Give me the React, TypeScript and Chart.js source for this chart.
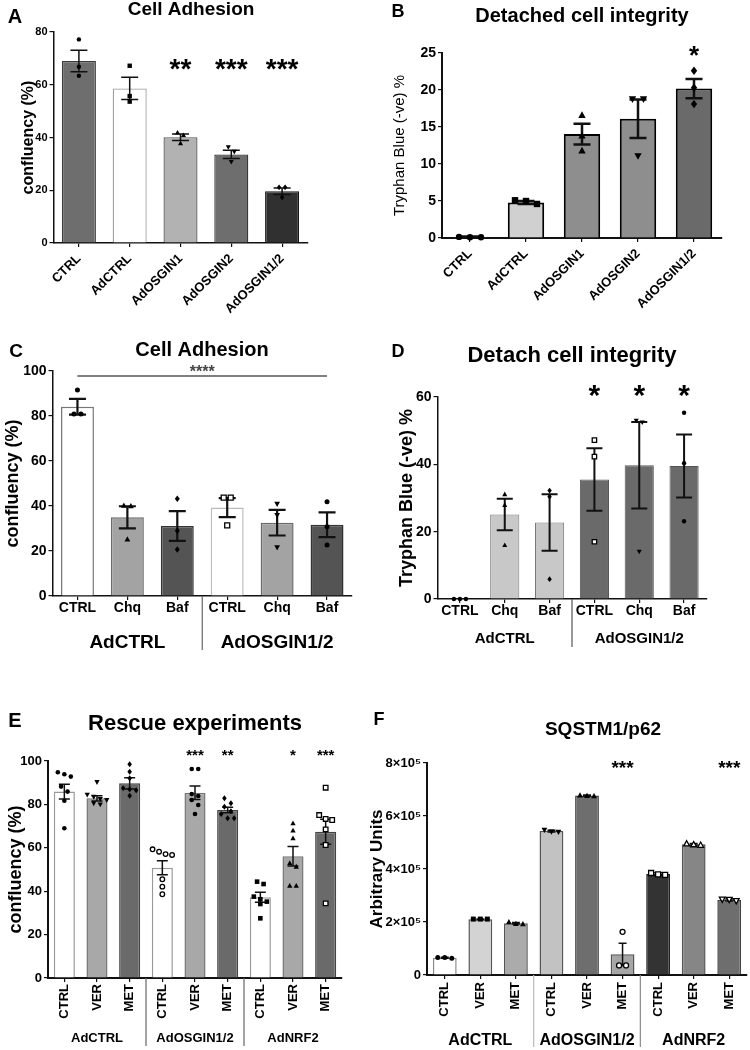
import React, { useEffect, useRef } from 'react';
import { Chart, registerables } from 'chart.js';

Chart.register(...registerables);

const FONT = '"Liberation Sans", Arial, Helvetica, sans-serif';

// ---------------- Panel A : Cell Adhesion ----------------
const A_CATEGORIES = ['CTRL', 'AdCTRL', 'AdOSGIN1', 'AdOSGIN2', 'AdOSGIN1/2'];
const A_MEANS = [69.0, 58.6, 40.1, 33.6, 19.6];
const A_SEMS = [4.1, 4.2, 1.25, 1.6, 1.25];
const A_POINTS = [[77.2, 66.8, 63.4], [67.2, 55.7, 53.6], [41.8, 40.9, 37.8], [36.4, 34.6, 30.8], [21.1, 21.1, 17.3]];
const A_STARS = ['', '', '**', '***', '***'];

// ---------------- Panel B : Detached cell integrity ----------------
const B_CATEGORIES = ['CTRL', 'AdCTRL', 'AdOSGIN1', 'AdOSGIN2', 'AdOSGIN1/2'];
const B_MEANS = [0.15, 4.8, 14.05, 16.1, 20.2];
const B_SEMS = [0.05, 0.2, 1.4, 2.6, 1.3];
const B_POINTS = [[0.1, 0.15, 0.1], [4.6, 5.1, 5.0], [16.6, 13.8, 11.8], [18.8, 18.8, 11.1], [22.6, 20.3, 18.1]];
const B_STARS = ['', '', '', '', '*'];

// ---------------- Panel C : Cell Adhesion (autophagy inhibitors) ----------------
const C_CATEGORIES = ['CTRL', 'Chq', 'Baf', 'CTRL', 'Chq', 'Baf'];
const C_GROUPS = ['AdCTRL', 'AdOSGIN1/2'];
const C_MEANS = [84.1, 35.0, 31.1, 39.3, 32.6, 31.7];
const C_SEMS = [3.5, 4.9, 6.6, 4.2, 5.7, 5.5];
const C_POINTS = [[91.6, 80.9, 80.9], [40.2, 40.0, 25.2], [43.2, 29.0, 20.7], [43.7, 43.7, 31.4], [40.9, 35.9, 21.6], [41.9, 30.8, 22.7]];
const C_SIG_LABEL = '****';
const C_SIG_VALUE = 97.8;

// ---------------- Panel D : Detach cell integrity ----------------
const D_CATEGORIES = ['CTRL', 'Chq', 'Baf', 'CTRL', 'Chq', 'Baf'];
const D_GROUPS = ['AdCTRL', 'AdOSGIN1/2'];
const D_MEANS = [0, 25.1, 22.7, 35.5, 39.7, 39.5];
const D_SEMS = [0, 4.65, 8.4, 9.3, 12.85, 9.35];
const D_POINTS = [[0, 0, 0], [31.1, 27.9, 16.0], [32.2, 30.4, 5.9], [47.2, 42.3, 17.0], [53.0, 52.5, 14.1], [55.3, 40.3, 23.1]];
const D_STARS = ['', '', '', '*', '*', '*'];

// ---------------- Panel E : Rescue experiments ----------------
const E_CATEGORIES = ['CTRL', 'VER', 'MET', 'CTRL', 'VER', 'MET', 'CTRL', 'VER', 'MET'];
const E_GROUPS = ['AdCTRL', 'AdOSGIN1/2', 'AdNRF2'];
const E_MEANS = [85.9, 82.8, 89.7, 50.8, 85.4, 77.4, 37.2, 56.1, 67.4];
const E_SEMS = [3.4, 1.2, 2.6, 3.2, 3.1, 1.3, 2.3, 4.5, 5.75];
const E_POINTS = [
  [94.8, 93.9, 92.8, 88.2, 85.9, 81.7, 69.0],
  [90.3, 84.5, 83.5, 82.5, 82.0, 80.5, 80.0],
  [98.5, 95.0, 92.0, 87.5, 87.0, 86.5, 84.0],
  [59.3, 58.2, 57.1, 56.7, 45.5, 42.1, 38.6],
  [96.3, 96.3, 84.8, 83.9, 82.0, 79.7, 75.6],
  [82.8, 80.5, 78.9, 76.8, 75.6, 73.6, 73.6],
  [44.4, 43.3, 37.5, 36.3, 35.2, 34.1, 27.5],
  [71.3, 67.9, 64.4, 52.9, 51.3, 42.5, 42.5],
  [87.7, 75.1, 73.3, 72.8, 68.5, 61.3, 34.4],
];
const E_STARS = ['', '', '', '', '***', '**', '', '*', '***'];

// ---------------- Panel F : SQSTM1/p62 ----------------
const F_CATEGORIES = ['CTRL', 'VER', 'MET', 'CTRL', 'VER', 'MET', 'CTRL', 'VER', 'MET'];
const F_GROUPS = ['AdCTRL', 'AdOSGIN1/2', 'AdNRF2'];
const F_MEANS = [65000, 210000, 195000, 543000, 677000, 78000, 381000, 493000, 283000];
const F_SEMS = [2000, 1500, 3000, 3000, 2000, 42000, 5000, 3000, 4000];
const F_POINTS = [
  [63000, 66000, 66000], [211000, 211000, 211000], [192000, 200000, 193000],
  [540000, 548000, 541000], [675000, 678000, 676000], [163000, 36000, 36000],
  [385000, 378000, 380000], [490000, 495000, 492000], [280000, 286000, 285000],
];
const F_STARS = ['', '', '', '', '', '***', '', '', '***'];
const F_TICK_LABELS = ['0', '2×10⁵', '4×10⁵', '6×10⁵', '8×10⁵'];

// ---------------- types & layout ----------------
type Shape = 'circle' | 'square' | 'triangle' | 'triangleDown' | 'diamond' | 'openCircle' | 'openSquare' | 'openTriangle' | 'openTriangleDown';

interface PanelSpec {
  id: string;
  canvas: { left: number; top: number; width: number; height: number };
  plot: { left: number; top: number; right: number; bottom: number };
  letter: string; letterX: number; letterY: number; letterSize: number;
  title: string; titleX: number; titleY: number; titleSize: number;
  categories: string[]; means: number[]; sems: number[]; points: number[][];
  stars?: string[]; starY?: number; starSize?: number;
  fills: string[]; borders: string[]; barBorderWidth: number; barRatio: number;
  shapes: Shape[]; markerR: number; jitter: number;
  errWidth: number; errCap: number;
  yMax: number; yStep: number; tickLabels?: string[];
  yTitle: string; yTitleSize: number; yTitleBold: boolean; yTitleX: number;
  yTickSize: number; axisWidth: number;
  xRotation: number; xFontSize: number; xPad: number;
  groups?: string[]; groupSize?: number; groupY?: number; sepBottom?: number; sepColors?: string[];
  sig?: { from: number; to: number; value: number; label: string; labelY: number; labelSize: number };
}

const PANELS: PanelSpec[] = [
  {
    id: 'A', canvas: { left: 0, top: 0, width: 375, height: 322 }, plot: { left: 53.5, top: 32, right: 307.5, bottom: 243 },
    letter: 'A', letterX: 15, letterY: 23, letterSize: 20,
    title: 'Cell Adhesion', titleX: 191, titleY: 15, titleSize: 19,
    categories: A_CATEGORIES, means: A_MEANS, sems: A_SEMS, points: A_POINTS,
    stars: A_STARS, starY: 62, starSize: 28,
    fills: ['#6e6e6e', '#ffffff', '#b2b2b2', '#6e6e6e', '#303030'],
    borders: ['#3a3a3a', '#a0a0a0', '#5a5a5a', '#3a3a3a', '#151515'], barBorderWidth: 1.3, barRatio: 0.67,
    shapes: ['circle', 'square', 'triangle', 'triangleDown', 'diamond'], markerR: 2.2, jitter: 6,
    errWidth: 1.5, errCap: 8.5,
    yMax: 80, yStep: 20,
    yTitle: 'confluency (%)', yTitleSize: 16, yTitleBold: true, yTitleX: 29,
    yTickSize: 11, axisWidth: 1.5,
    xRotation: 45, xFontSize: 13, xPad: 4,
  },
  {
    id: 'B', canvas: { left: 375, top: 0, width: 375, height: 322 }, plot: { left: 442, top: 53, right: 722, bottom: 238 },
    letter: 'B', letterX: 398, letterY: 17, letterSize: 18,
    title: 'Detached cell integrity', titleX: 582, titleY: 22, titleSize: 20,
    categories: B_CATEGORIES, means: B_MEANS, sems: B_SEMS, points: B_POINTS,
    stars: B_STARS, starY: 49, starSize: 26,
    fills: ['#d0d0d0', '#d0d0d0', '#8e8e8e', '#8e8e8e', '#6a6a6a'],
    borders: ['#000', '#000', '#000', '#000', '#000'], barBorderWidth: 2, barRatio: 0.65,
    shapes: ['circle', 'square', 'triangle', 'triangleDown', 'diamond'], markerR: 3.2, jitter: 11,
    errWidth: 2.5, errCap: 8.5,
    yMax: 25, yStep: 5,
    yTitle: 'Tryphan Blue (-ve) %', yTitleSize: 15, yTitleBold: false, yTitleX: 400,
    yTickSize: 14, axisWidth: 2,
    xRotation: 45, xFontSize: 13, xPad: 4,
  },
  {
    id: 'C', canvas: { left: 0, top: 330, width: 375, height: 335 }, plot: { left: 52.5, top: 371, right: 352, bottom: 596 },
    letter: 'C', letterX: 16, letterY: 357, letterSize: 19,
    title: 'Cell Adhesion', titleX: 202, titleY: 356, titleSize: 20,
    categories: C_CATEGORIES, means: C_MEANS, sems: C_SEMS, points: C_POINTS,
    fills: ['#ffffff', '#a3a3a3', '#545454', '#ffffff', '#a3a3a3', '#545454'],
    borders: ['#777777', '#6a6a6a', '#333333', '#bbbbbb', '#6a6a6a', '#333333'], barBorderWidth: 1.5, barRatio: 0.66,
    shapes: ['circle', 'triangle', 'diamond', 'openSquare', 'triangleDown', 'circle'], markerR: 2.5, jitter: 7,
    errWidth: 2.2, errCap: 8.5,
    yMax: 100, yStep: 20,
    yTitle: 'confluency (%)', yTitleSize: 18, yTitleBold: true, yTitleX: 13,
    yTickSize: 14, axisWidth: 1.5,
    xRotation: 0, xFontSize: 14, xPad: 0,
    groups: C_GROUPS, groupSize: 19, groupY: 648, sepBottom: 650, sepColors: ['#666666'],
    sig: { from: 0, to: 5, value: C_SIG_VALUE, label: C_SIG_LABEL, labelY: 367.5, labelSize: 16 },
  },
  {
    id: 'D', canvas: { left: 375, top: 330, width: 375, height: 335 }, plot: { left: 437.5, top: 397, right: 706.5, bottom: 599 },
    letter: 'D', letterX: 398, letterY: 357, letterSize: 18,
    title: 'Detach cell integrity', titleX: 572, titleY: 362, titleSize: 22,
    categories: D_CATEGORIES, means: D_MEANS, sems: D_SEMS, points: D_POINTS,
    stars: D_STARS, starY: 388, starSize: 30,
    fills: ['#c8c8c8', '#c8c8c8', '#c8c8c8', '#6a6a6a', '#6a6a6a', '#6a6a6a'],
    borders: ['#777777', '#777777', '#777777', '#555555', '#555555', '#555555'], barBorderWidth: 1, barRatio: 0.65,
    shapes: ['circle', 'triangle', 'diamond', 'openSquare', 'triangleDown', 'circle'], markerR: 2.2, jitter: 6,
    errWidth: 2, errCap: 8,
    yMax: 60, yStep: 20,
    yTitle: 'Tryphan Blue (-ve) %', yTitleSize: 18, yTitleBold: true, yTitleX: 407,
    yTickSize: 14, axisWidth: 1.5,
    xRotation: 0, xFontSize: 14, xPad: 0,
    groups: D_GROUPS, groupSize: 15, groupY: 643, sepBottom: 647, sepColors: ['#555555'],
  },
  {
    id: 'E', canvas: { left: 0, top: 695, width: 360, height: 355 }, plot: { left: 48, top: 761, right: 342, bottom: 978 },
    letter: 'E', letterX: 15, letterY: 727, letterSize: 20,
    title: 'Rescue experiments', titleX: 195, titleY: 730, titleSize: 22,
    categories: E_CATEGORIES, means: E_MEANS, sems: E_SEMS, points: E_POINTS,
    stars: E_STARS, starY: 751.5, starSize: 15,
    fills: ['#ffffff', '#a8a8a8', '#6a6a6a', '#ffffff', '#a8a8a8', '#6a6a6a', '#ffffff', '#a8a8a8', '#6a6a6a'],
    borders: ['#999999', '#777777', '#444444', '#999999', '#777777', '#444444', '#999999', '#777777', '#444444'], barBorderWidth: 1.5, barRatio: 0.645,
    shapes: ['circle', 'triangleDown', 'diamond', 'openCircle', 'circle', 'diamond', 'square', 'triangle', 'openSquare'], markerR: 2.3, jitter: 6.5,
    errWidth: 1.5, errCap: 5.5,
    yMax: 100, yStep: 20,
    yTitle: 'confluency (%)', yTitleSize: 18, yTitleBold: true, yTitleX: 16,
    yTickSize: 13, axisWidth: 2,
    xRotation: 90, xFontSize: 13, xPad: 2,
    groups: E_GROUPS, groupSize: 13, groupY: 1042, sepBottom: 1046, sepColors: ['#666666', '#666666'],
  },
  {
    id: 'F', canvas: { left: 355, top: 695, width: 395, height: 355 }, plot: { left: 427, top: 763, right: 747, bottom: 975 },
    letter: 'F', letterX: 379, letterY: 725, letterSize: 18,
    title: 'SQSTM1/p62', titleX: 603, titleY: 735, titleSize: 19,
    categories: F_CATEGORIES, means: F_MEANS, sems: F_SEMS, points: F_POINTS,
    stars: F_STARS, starY: 763.5, starSize: 19,
    fills: ['#ffffff', '#d3d3d3', '#ababab', '#c2c2c2', '#6e6e6e', '#a6a6a6', '#333333', '#868686', '#6e6e6e'],
    borders: ['#888888', '#555555', '#555555', '#555555', '#444444', '#555555', '#222222', '#555555', '#444444'], barBorderWidth: 1.5, barRatio: 0.67,
    shapes: ['circle', 'square', 'triangle', 'triangleDown', 'triangle', 'openCircle', 'openSquare', 'openTriangle', 'openTriangleDown'], markerR: 2.5, jitter: 7,
    errWidth: 1.5, errCap: 4,
    yMax: 800000, yStep: 200000, tickLabels: F_TICK_LABELS,
    yTitle: 'Arbitrary Units', yTitleSize: 17, yTitleBold: true, yTitleX: 377,
    yTickSize: 13, axisWidth: 2,
    xRotation: 90, xFontSize: 13, xPad: 3,
    groups: F_GROUPS, groupSize: 16, groupY: 1045, sepBottom: 1047, sepColors: ['#bbbbbb', '#888888'],
  },
];

// ---------------- drawing helpers ----------------
function drawText(ctx: CanvasRenderingContext2D, s: string, x: number, y: number, size: number, bold: boolean, color = '#000') {
  ctx.font = `${bold ? 'bold ' : ''}${size}px ${FONT}`;
  ctx.fillStyle = color;
  ctx.textAlign = 'center';
  ctx.textBaseline = 'alphabetic';
  ctx.fillText(s, x, y);
}

function drawMarker(ctx: CanvasRenderingContext2D, shape: Shape, x: number, y: number, r: number) {
  ctx.beginPath();
  const open = shape.startsWith('open');
  const base = open ? shape.slice(4).toLowerCase() : shape.toLowerCase();
  if (base === 'circle') {
    ctx.arc(x, y, r, 0, Math.PI * 2);
  } else if (base === 'square') {
    ctx.rect(x - r, y - r, 2 * r, 2 * r);
  } else if (base === 'triangle') {
    ctx.moveTo(x, y - r * 1.25);
    ctx.lineTo(x + r * 1.15, y + r * 0.85);
    ctx.lineTo(x - r * 1.15, y + r * 0.85);
    ctx.closePath();
  } else if (base === 'triangledown') {
    ctx.moveTo(x, y + r * 1.25);
    ctx.lineTo(x + r * 1.15, y - r * 0.85);
    ctx.lineTo(x - r * 1.15, y - r * 0.85);
    ctx.closePath();
  } else {
    ctx.moveTo(x, y - r * 1.3);
    ctx.lineTo(x + r * 1.0, y);
    ctx.lineTo(x, y + r * 1.3);
    ctx.lineTo(x - r * 1.0, y);
    ctx.closePath();
  }
  if (open) {
    ctx.fillStyle = '#ffffff';
    ctx.fill();
    ctx.lineWidth = 1.3;
    ctx.strokeStyle = '#000';
    ctx.stroke();
  } else {
    ctx.fillStyle = '#000';
    ctx.fill();
  }
}

function makeOverlay(spec: PanelSpec) {
  const ox = spec.canvas.left;
  const oy = spec.canvas.top;
  return {
    id: 'overlay' + spec.id,
    afterDatasetsDraw(chart: any) {
      const ctx: CanvasRenderingContext2D = chart.ctx;
      const xs = chart.scales.x;
      const ys = chart.scales.y;
      ctx.save();
      // error bars (mean ± SEM)
      ctx.strokeStyle = '#111';
      ctx.lineWidth = spec.errWidth;
      ctx.lineCap = 'butt';
      spec.means.forEach((m, i) => {
        const s = spec.sems[i];
        if (!s) return;
        const x = xs.getPixelForValue(i);
        const yT = ys.getPixelForValue(m + s);
        const yB = ys.getPixelForValue(Math.max(0, m - s));
        ctx.beginPath();
        ctx.moveTo(x, yT);
        ctx.lineTo(x, yB);
        ctx.moveTo(x - spec.errCap, yT);
        ctx.lineTo(x + spec.errCap, yT);
        ctx.moveTo(x - spec.errCap, yB);
        ctx.lineTo(x + spec.errCap, yB);
        ctx.stroke();
      });
      // individual replicate points, spread horizontally when they overlap
      spec.points.forEach((vals, i) => {
        const cx = xs.getPixelForValue(i);
        const ysPix = vals.map((v) => ys.getPixelForValue(v)).sort((a, b) => a - b);
        const d = spec.jitter;
        let k = 0;
        while (k < ysPix.length) {
          const row: number[] = [ysPix[k]];
          let j = k + 1;
          while (j < ysPix.length && ysPix[j] - ysPix[k] < d * 0.9) {
            row.push(ysPix[j]);
            j++;
          }
          row.forEach((py, n) => {
            const off = (n - (row.length - 1) / 2) * d;
            drawMarker(ctx, spec.shapes[i], cx + off, py, spec.markerR);
          });
          k = j;
        }
      });
      ctx.restore();
    },
    afterDraw(chart: any) {
      const ctx: CanvasRenderingContext2D = chart.ctx;
      const xs = chart.scales.x;
      const ys = chart.scales.y;
      ctx.save();
      drawText(ctx, spec.letter, spec.letterX - ox, spec.letterY - oy, spec.letterSize, true);
      drawText(ctx, spec.title, spec.titleX - ox, spec.titleY - oy, spec.titleSize, true);
      if (spec.stars && spec.starY !== undefined && spec.starSize) {
        spec.stars.forEach((st, i) => {
          if (!st) return;
          drawText(ctx, st, xs.getPixelForValue(i), spec.starY! - oy + spec.starSize! * 0.57, spec.starSize!, true);
        });
      }
      if (spec.sig) {
        const x1 = xs.getPixelForValue(spec.sig.from);
        const x2 = xs.getPixelForValue(spec.sig.to);
        const y = ys.getPixelForValue(spec.sig.value);
        ctx.strokeStyle = '#555';
        ctx.lineWidth = 1.5;
        ctx.beginPath();
        ctx.moveTo(x1, y);
        ctx.lineTo(x2, y);
        ctx.stroke();
        drawText(ctx, spec.sig.label, (x1 + x2) / 2, spec.sig.labelY - oy + spec.sig.labelSize * 0.57, spec.sig.labelSize, true, '#444');
      }
      if (spec.groups && spec.groupY !== undefined) {
        const per = spec.categories.length / spec.groups.length;
        spec.groups.forEach((g, gi) => {
          const a = xs.getPixelForValue(gi * per);
          const b = xs.getPixelForValue(gi * per + per - 1);
          drawText(ctx, g, (a + b) / 2, spec.groupY! - oy, spec.groupSize!, true);
          if (gi > 0) {
            const xl = (xs.getPixelForValue(gi * per - 1) + a) / 2;
            ctx.strokeStyle = spec.sepColors![(gi - 1) % spec.sepColors!.length];
            ctx.lineWidth = 1.2;
            ctx.beginPath();
            ctx.moveTo(xl, chart.chartArea.bottom);
            ctx.lineTo(xl, spec.sepBottom! - oy);
            ctx.stroke();
          }
        });
      }
      ctx.restore();
    },
  };
}

function buildConfig(spec: PanelSpec): any {
  const c = spec.canvas;
  const p = spec.plot;
  const yW = p.left - c.left;
  const xH = c.top + c.height - p.bottom;
  const titlePad = Math.max(0, spec.yTitleX - c.left - spec.yTitleSize * 0.6);
  const yTicks: any = {
    stepSize: spec.yStep,
    color: '#000',
    padding: 2,
    font: { family: FONT, size: spec.yTickSize, weight: 'bold' },
  };
  if (spec.tickLabels) {
    const labels = spec.tickLabels;
    yTicks.callback = (_v: any, i: number) => labels[i];
  }
  return {
    type: 'bar',
    data: {
      labels: spec.categories,
      datasets: [
        {
          data: spec.means,
          backgroundColor: spec.fills,
          borderColor: spec.borders,
          borderWidth: spec.barBorderWidth,
          categoryPercentage: spec.barRatio,
          barPercentage: 1,
        },
      ],
    },
    options: {
      responsive: false,
      animation: false,
      events: [],
      layout: { padding: { left: 0, top: p.top - c.top, right: c.left + c.width - p.right, bottom: 0 } },
      plugins: { legend: { display: false }, title: { display: false }, tooltip: { enabled: false } },
      scales: {
        x: {
          z: 1,
          ticks: {
            autoSkip: false,
            minRotation: spec.xRotation,
            maxRotation: spec.xRotation,
            padding: spec.xPad,
            color: '#000',
            font: { family: FONT, size: spec.xFontSize, weight: 'bold' },
          },
          grid: { display: true, drawOnChartArea: false, drawTicks: true, tickLength: 4, offset: false, color: '#111', lineWidth: 1.2 },
          border: { display: true, color: '#111', width: spec.axisWidth },
          afterFit: (s: any) => {
            s.height = xH;
          },
        },
        y: {
          z: 1,
          min: 0,
          max: spec.yMax,
          ticks: yTicks,
          grid: { display: true, drawOnChartArea: false, drawTicks: true, tickLength: 4, color: '#111', lineWidth: 1.2 },
          border: { display: true, color: '#111', width: spec.axisWidth },
          title: {
            display: true,
            text: spec.yTitle,
            color: '#000',
            padding: { top: titlePad, bottom: 0 },
            font: { family: FONT, size: spec.yTitleSize, weight: spec.yTitleBold ? 'bold' : 'normal' },
          },
          afterFit: (s: any) => {
            s.width = yW;
          },
        },
      },
    },
    plugins: [makeOverlay(spec)],
  };
}

function Panel({ spec }: { spec: PanelSpec }) {
  const ref = useRef<HTMLCanvasElement>(null);
  useEffect(() => {
    if (!ref.current) return;
    const chart = new Chart(ref.current, buildConfig(spec));
    return () => chart.destroy();
  }, [spec]);
  const c = spec.canvas;
  return (
    <canvas
      ref={ref}
      width={c.width}
      height={c.height}
      style={{ position: 'absolute', left: c.left, top: c.top, width: c.width, height: c.height }}
    />
  );
}

export default function App() {
  return (
    <div style={{ position: 'absolute', left: 0, top: 0, width: 750, height: 1050, background: '#ffffff', overflow: 'hidden' }}>
      {PANELS.map((p) => (
        <Panel key={p.id} spec={p} />
      ))}
    </div>
  );
}
